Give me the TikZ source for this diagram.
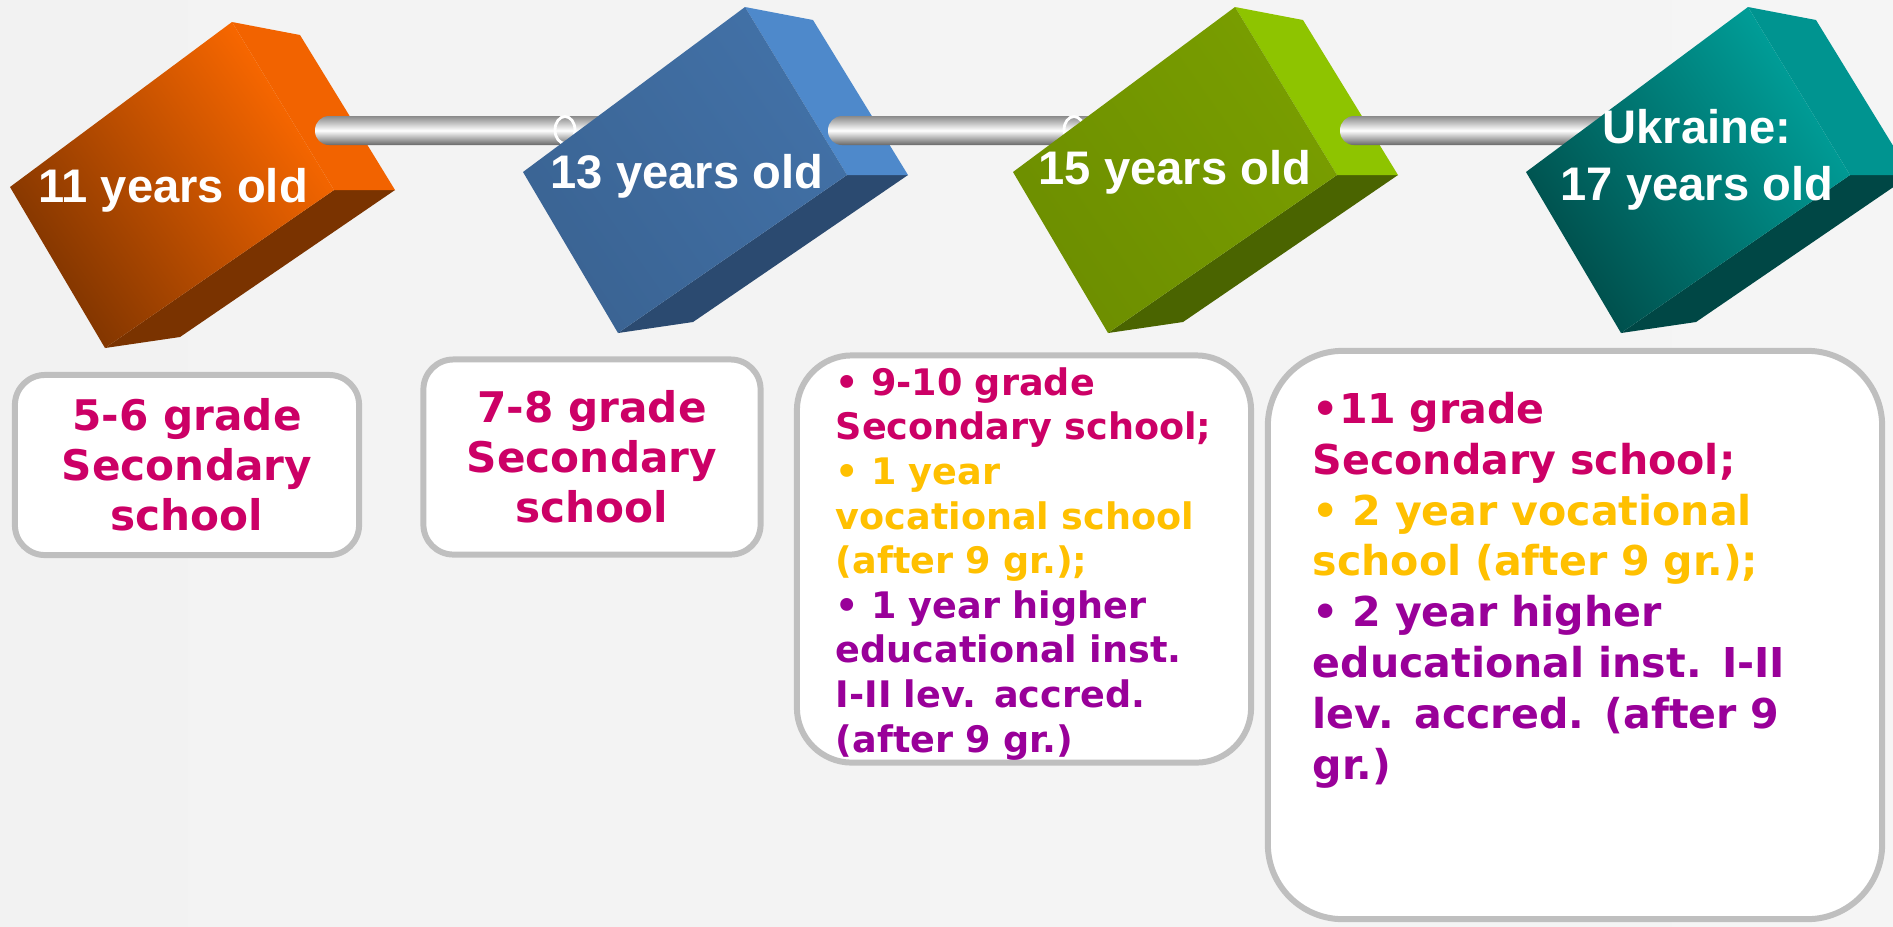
\documentclass[tikz,border=0pt]{standalone}
\usepackage{fontspec}
\setmainfont{Liberation Sans}
\newfontfamily\verd{DejaVu Sans}
\usepackage{xcolor}
\usepackage{tikz}

\definecolor{orngbright}{HTML}{FF6A00}
\definecolor{orngdark}{HTML}{7E3400}
\definecolor{orngside}{HTML}{F26300}
\definecolor{orngbase}{HTML}{7A3300}
\definecolor{blufront}{HTML}{4271A7}
\definecolor{bluside}{HTML}{4E89CB}
\definecolor{blubase}{HTML}{2B4A70}
\definecolor{grnfront}{HTML}{799E00}
\definecolor{grnside}{HTML}{8EC400}
\definecolor{grnbase}{HTML}{4A6400}
\definecolor{tealbright}{HTML}{00A29C}
\definecolor{tealdark}{HTML}{004D4A}
\definecolor{tealside}{HTML}{009490}
\definecolor{tealbase}{HTML}{004745}
\definecolor{rodgray}{HTML}{8A8A8A}
\definecolor{panelgray}{HTML}{BFBFBF}
\definecolor{gradepink}{HTML}{CC0066}
\definecolor{vocgold}{HTML}{FFC000}
\definecolor{higherpurple}{HTML}{990099}

% tilted box: top corner at (#1,#2); front (bright/dark), side, base colours
\newcommand{\agecube}[6]{%
  \begin{scope}[shift={(#1,#2)}]
    \fill[#6] (102,168) -- (163,168) -- (-52,315) -- (-127,326) -- cycle;
    \fill[#5] (0,0) -- (68,13) -- (163,168) -- (102,168) -- cycle;
    \shade[bottom color=#4, top color=#3, shading angle=-55] (0,0) -- (-222,165) -- (-127,326) -- (102,168) -- cycle;
  \end{scope}}

\begin{document}
\begin{tikzpicture}[x=0.01cm, y=-0.01cm]
\tikzstyle{agelabel} = [text=white, font=\fontsize{13.4}{16.2}\selectfont\bfseries, align=center, inner sep=0pt]
\tikzstyle{rod} = [top color=rodgray, bottom color=rodgray!75!black, middle color=white, rounded corners=0.14cm]
\tikzstyle{ring} = [draw=white, line width=0.8pt]
\tikzstyle{panel} = [rectangle, draw=panelgray, line width=1.7pt, fill=white, rounded corners=0.3cm, inner sep=0pt]
\tikzstyle{gradetext} = [font=\verd\bfseries\fontsize{12}{14.2}\selectfont, text=gradepink, align=center]
\tikzstyle{listtext} = [align=left, inner sep=0pt, anchor=base west]

\useasboundingbox (0,0) rectangle (1893,926);
\shade[left color=gray!10, middle color=gray!2, right color=gray!8] (0,0) rectangle (1893,926);

% ages
\agecube{232}{22}{orngbright}{orngdark}{orngside}{orngbase}
\node (age11) [agelabel, anchor=base] at (173,202) {11 years old};

\coordinate (rod1s) at (315,116);
\coordinate (rod1e) at (640,145);
\shade[rod] (rod1s) rectangle (rod1e);
\draw[ring] (565,130) ellipse [x radius=0.1cm, y radius=0.135cm];

\agecube{745}{7}{blufront}{blufront!88!black}{bluside}{blubase}
\node (age13) [agelabel, anchor=base] at (687,188) {13 years old};

\coordinate (rod2s) at (828,116);
\coordinate (rod2e) at (1130,145);
\shade[rod] (rod2s) rectangle (rod2e);
\draw[ring] (1074,130) ellipse [x radius=0.1cm, y radius=0.135cm];

\agecube{1235}{7}{grnfront}{grnfront!90!black}{grnside}{grnbase}
\node (age15) [agelabel, anchor=base] at (1175,184) {15 years old};

\coordinate (rod3s) at (1340,116);
\coordinate (rod3e) at (1640,145);
\shade[rod] (rod3s) rectangle (rod3e);

\agecube{1748}{7}{tealbright}{tealdark}{tealside}{tealbase}
\node (age17) [agelabel, anchor=base] at (1697,200) {Ukraine:\\17 years old};

% grades
\node (grade56) [panel, gradetext, minimum width=3.44cm, minimum height=1.80cm] at (187,465) {5-6 grade\\Secondary\\school};
\node (grade78) [panel, gradetext, minimum width=3.37cm, minimum height=1.95cm] at (592,457) {7-8 grade\\Secondary\\school};

\node (panel15) [panel, minimum width=4.54cm, minimum height=4.07cm, rounded corners=0.55cm] at (1024,559) {};
\node (list15) [listtext, text width=4.15cm, font=\verd\bfseries\fontsize{10.4}{12.7}\selectfont] at (835,395)
  {\color{gradepink}• 9-10 grade\\ Secondary school;\\ \color{vocgold}• 1 year\\ vocational school\\ (after 9 gr.);\\ \color{higherpurple}• 1 year higher\\ educational inst.\\ I-II lev. accred.\\ (after 9 gr.)};

\node (panel17) [panel, minimum width=6.14cm, minimum height=5.68cm, rounded corners=0.75cm] at (1575,635) {};
\node (list17) [listtext, text width=5.5cm, font=\verd\bfseries\fontsize{11.7}{14.5}\selectfont] at (1312,423)
  {\color{gradepink}•11 grade\\ Secondary school;\\ \color{vocgold}• 2 year vocational\\ school (after 9 gr.);\\ \color{higherpurple}• 2 year higher\\ educational inst. I-II\\ lev. accred. (after 9\\ gr.)};

\end{tikzpicture}
\end{document}
